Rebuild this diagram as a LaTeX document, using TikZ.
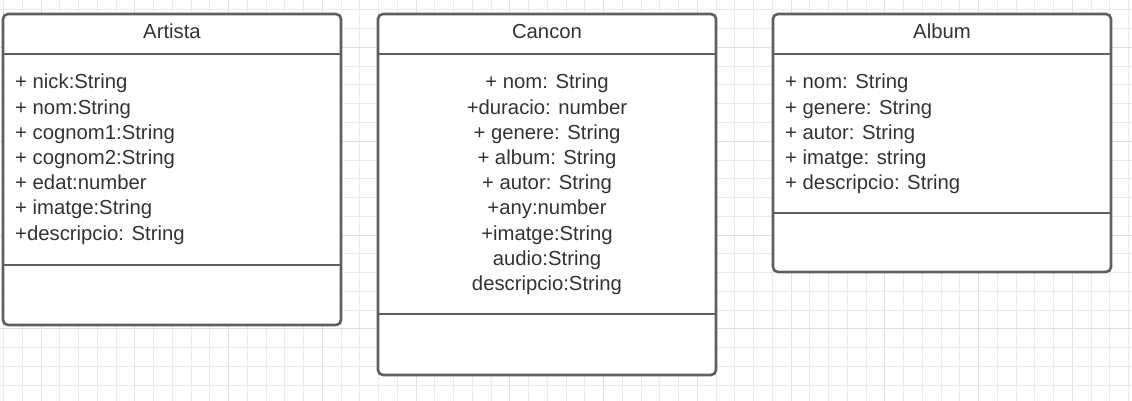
\documentclass[tikz,border=0pt]{standalone}
\usepackage{fontspec}
\setmainfont{Liberation Sans}
\definecolor{gridminor}{HTML}{EBEBEB}
\definecolor{gridmajor}{HTML}{E0E0E0}
\definecolor{boxline}{HTML}{5F5F5F}
\definecolor{txt}{HTML}{333333}
\tikzset{
  minorgrid/.style={draw=gridminor, line width=1pt},
  majorgrid/.style={draw=gridmajor, line width=1pt},
  umlbox/.style={draw=boxline, line width=2.6pt, rounded corners=5pt, fill=white, inner sep=0pt, outer sep=0pt, anchor=north west},
  sepline/.style={draw=boxline, line width=2.6pt},
  title/.style={text=txt, font=\fontsize{20.3}{25}\selectfont, inner sep=0pt, anchor=base},
  item/.style={text=txt, font=\fontsize{20.3}{25}\selectfont, inner sep=0pt},
}
\begin{document}
\begin{tikzpicture}[x=1pt,y=-1pt]
\useasboundingbox (0,0) rectangle (1132,401);
\fill[white] (0,0) rectangle (1132,401);
% grid
\foreach \k in {0,...,60} {
  \pgfmathsetmacro\xx{3.5+18.75*\k}
  \pgfmathtruncatemacro\mm{mod(\k,5)}
  \ifnum\mm=2 \draw[majorgrid] (\xx,0) -- (\xx,401); \else \draw[minorgrid] (\xx,0) -- (\xx,401); \fi
}
\foreach \k in {0,...,21} {
  \pgfmathsetmacro\yy{10+18.75*\k}
  \pgfmathtruncatemacro\mm{mod(\k,5)}
  \ifnum\mm=2 \draw[majorgrid] (0,\yy) -- (1132,\yy); \else \draw[minorgrid] (0,\yy) -- (1132,\yy); \fi
}
% Artista
\node[umlbox, minimum width=338pt, minimum height=311pt] (artista) at (3,14) {};
\draw[sepline] (artista.west |- 0,54) -- (artista.east |- 0,54);
\draw[sepline] (artista.west |- 0,265) -- (artista.east |- 0,265);
\node[title] (artistaT) at (172,39) {Artista};
\foreach \t [count=\i from 0] in {+ nick:String, + nom:String, + cognom1:String, + cognom2:String, + edat:number, + imatge:String, +descripcio: String}
  \node[item, anchor=base west] (artista\i) at (15,{89+25.17*\i}) {\t};
% Cancon
\node[umlbox, minimum width=338pt, minimum height=361pt] (cancon) at (378,14) {};
\draw[sepline] (cancon.west |- 0,54) -- (cancon.east |- 0,54);
\draw[sepline] (cancon.west |- 0,314) -- (cancon.east |- 0,314);
\node[title] (canconT) at (547,39) {Cancon};
\foreach \t [count=\i from 0] in {+ nom: String, +duracio: number, + genere: String, + album: String, + autor: String, +any:number, +imatge:String, audio:String, descripcio:String}
  \node[item, anchor=base] (cancon\i) at (547,{89+25.17*\i}) {\t};
% Album
\node[umlbox, minimum width=338pt, minimum height=258pt] (album) at (773,14) {};
\draw[sepline] (album.west |- 0,54) -- (album.east |- 0,54);
\draw[sepline] (album.west |- 0,213) -- (album.east |- 0,213);
\node[title] (albumT) at (942,39) {Album};
\foreach \t [count=\i from 0] in {+ nom: String, + genere: String, + autor: String, + imatge: string, + descripcio: String}
  \node[item, anchor=base west] (album\i) at (785,{89+25.17*\i}) {\t};
\end{tikzpicture}
\end{document}
